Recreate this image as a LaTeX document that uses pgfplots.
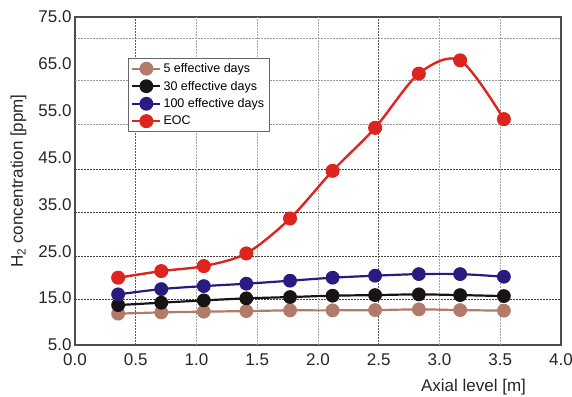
\documentclass[border=0pt]{standalone}
\usepackage{fontspec}
\setmainfont{Liberation Sans}
\usepackage{pgfplots}
\pgfplotsset{compat=1.18}
\definecolor{cbrown}{RGB}{178,122,104}
\definecolor{cblack}{RGB}{25,20,20}
\definecolor{cblue}{RGB}{40,28,128}
\definecolor{cred}{RGB}{222,36,30}
\begin{document}
\begin{tikzpicture}
\begin{axis}[name=ax, scale only axis, width=486pt, height=328pt,
  xmin=0, xmax=4, ymin=5, ymax=75,
  xtick={0,0.5,1,1.5,2,2.5,3,3.5,4},
  ytick={5,15,25,35,45,55,65,75},
  /pgf/number format/assume math mode=true,
  /pgf/number format/fixed,
  /pgf/number format/fixed zerofill,
  /pgf/number format/precision=1,
  tick label style={font=\fontsize{17}{19}\selectfont, text=black!85},
  xticklabel style={yshift=-5pt},
  major tick length=0pt,
  axis line style={draw=black!70, line width=1.6pt},
  xlabel={Axial level [m]},
  ylabel={H\textsubscript{2} concentration [ppm]},
  label style={font=\fontsize{17}{19}\selectfont, text=black!85},
  xlabel style={at={(axis description cs:0.82,0)}, anchor=north, yshift=-31pt},
  ylabel style={yshift=5pt},
  legend style={at={(axis description cs:0.1086,0.875)}, anchor=north west,
    draw=black!60, line width=0.8pt, fill=white,
    font=\fontsize{12.5}{14}\selectfont, row sep=3pt, inner sep=3pt},
  legend cell align=left,
  legend image code/.code={\draw[mark repeat=2,mark phase=2,#1] plot coordinates {(0pt,0pt)(14pt,0pt)(28pt,0pt)};},
  clip=false,
]
% grid (as in the reference, offset from the tick labels)
\pgfplotsinvokeforeach{70.52,61.49,52.04}{
  \draw[black!40, dash pattern=on 2pt off 1pt, line width=0.7pt] (axis cs:0,#1) -- (axis cs:4,#1);}
\pgfplotsinvokeforeach{42.51,33.22,23.97,14.74}{
  \draw[black!75, dash pattern=on 2pt off 1pt, line width=0.9pt] (axis cs:0,#1) -- (axis cs:4,#1);}
\pgfplotsinvokeforeach{1,1.5,2,3,3.5}{
  \draw[black!35, dash pattern=on 2pt off 1pt, line width=0.7pt] (axis cs:#1,5) -- (axis cs:#1,75);}
\pgfplotsinvokeforeach{0.5,2.5}{
  \draw[black!65, dash pattern=on 2pt off 1pt, line width=0.8pt] (axis cs:#1,5) -- (axis cs:#1,75);}

\addplot[cbrown, line width=2.2pt, smooth, mark=*, mark size=5.8pt] coordinates {
(0.355,11.69)(0.71,11.96)(1.06,12.11)(1.41,12.24)(1.77,12.39)(2.12,12.39)(2.47,12.45)(2.83,12.6)(3.17,12.45)(3.53,12.33)};
\addlegendentry{5 effective days}
\addplot[cblack, line width=2.2pt, smooth, mark=*, mark size=5.8pt] coordinates {
(0.355,13.52)(0.71,14.03)(1.06,14.52)(1.41,14.95)(1.77,15.23)(2.12,15.52)(2.47,15.65)(2.83,15.8)(3.17,15.65)(3.53,15.44)};
\addlegendentry{30 effective days}
\addplot[cblue, line width=2.2pt, smooth, mark=*, mark size=5.8pt] coordinates {
(0.355,15.8)(0.71,16.93)(1.06,17.57)(1.41,18.08)(1.77,18.72)(2.12,19.36)(2.47,19.79)(2.83,20.13)(3.17,20.13)(3.53,19.57)};
\addlegendentry{100 effective days}
\addplot[cred, line width=2.4pt, smooth, mark=*, mark size=5.8pt] coordinates {
(0.355,19.36)(0.71,20.77)(1.06,21.84)(1.41,24.54)(1.77,32.0)(2.12,42.17)(2.47,51.34)(2.83,62.91)(3.17,65.75)(3.53,53.2)};
\addlegendentry{EOC}
\end{axis}
\pgfresetboundingbox
\path ([xshift=-75pt,yshift=-52pt]ax.south west) rectangle ([xshift=11pt,yshift=17pt]ax.north east);
\end{tikzpicture}
\end{document}
